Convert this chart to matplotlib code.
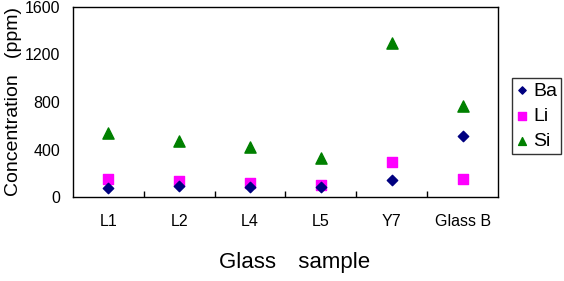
import matplotlib
matplotlib.use("Agg")
import matplotlib.pyplot as plt
import numpy as np

plt.rcParams['font.family'] = ['Liberation Sans', 'Noto Sans CJK JP']

samples = ["L1", "L2", "L4", "L5", "Y7", "Glass B"]
ba = [76, 93, 84, 84, 143, 514]
li = [152, 135, 118, 101, 295, 152]
si = [539, 472, 421, 328, 1297, 766]

fig = plt.figure(figsize=(5.64, 2.81), dpi=100)
ax = fig.add_axes([73 / 564, 1 - 197 / 281, 425 / 564, 190 / 281])

x = np.arange(len(samples))
ax.scatter(x, ba, marker='D', s=28, color='#000080', label='Ba', zorder=3)
ax.scatter(x, li, marker='s', s=55, color='#ff00ff', label='Li', zorder=2)
ax.scatter(x, si, marker='^', s=65, color='#008000', label='Si', zorder=2)

ax.set_xlim(-0.5, len(samples) - 0.5)
ax.set_ylim(0, 1600)
ax.set_yticks([0, 400, 800, 1200, 1600])
ax.set_xticks(x)
ax.set_xticklabels(samples)
ax.set_xticks(np.arange(0.5, len(samples) - 1, 1), minor=True)
ax.tick_params(axis='x', which='major', length=0, pad=12, labelsize=11.5)
ax.tick_params(axis='x', which='minor', direction='in', length=4, width=1)
ax.tick_params(axis='y', length=0, pad=9, labelsize=11.5)
for sp in ax.spines.values():
    sp.set_linewidth(1)

ax.set_xlabel("Glass\u3000sample", fontsize=16)
ax.xaxis.set_label_coords(0.522, -0.29)
ax.set_ylabel("Concentration   (ppm)", fontsize=14, family='Liberation Sans')
ax.yaxis.set_label_coords(-0.119, 0.5)

leg = ax.legend(loc='upper left', bbox_to_anchor=(512 / 564, 1 - 78 / 281),
                bbox_transform=fig.transFigure, fontsize=14, frameon=True,
                fancybox=False, edgecolor='black', handlelength=0.6,
                handletextpad=0.3, borderpad=0.2, labelspacing=0.4,
                borderaxespad=0, markerscale=0.7)
leg.get_frame().set_linewidth(1)

fig.savefig("out.png", dpi=100)
